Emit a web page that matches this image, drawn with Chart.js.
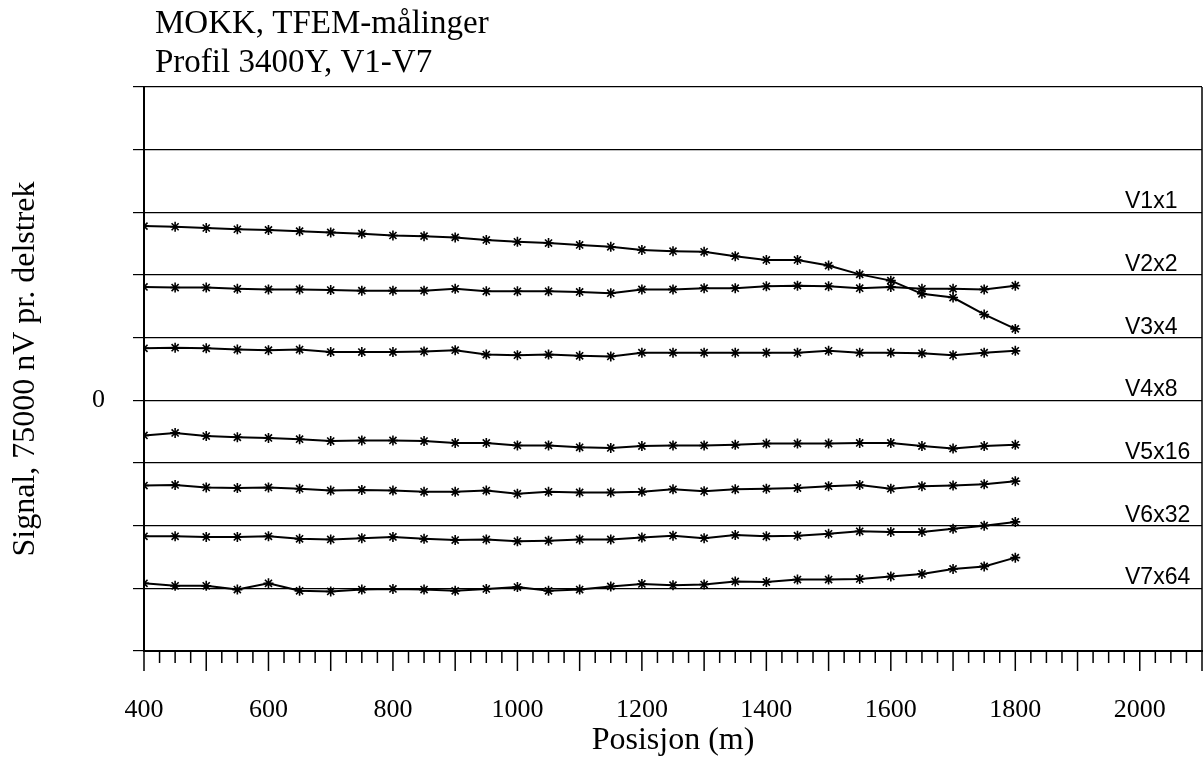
<!DOCTYPE html>
<html>
<head>
<meta charset="utf-8">
<title>MOKK, TFEM-målinger</title>
<script src="https://cdn.jsdelivr.net/npm/chart.js@4.4.1/dist/chart.umd.min.js"></script>
<style>
  html, body { margin: 0; padding: 0; background: #fff; }
</style>
</head>
<body>
<canvas id="tfemChart" width="1204" height="762"></canvas>
<script>
// Measuring positions along the profile (m)
const positions = [400, 450, 500, 550, 600, 650, 700, 750, 800, 850,
                   900, 950, 1000, 1050, 1100, 1150, 1200, 1250, 1300, 1350,
                   1400, 1450, 1500, 1550, 1600, 1650, 1700, 1750, 1800];

// Channel signals, in plot units (75000 nV per division)
const v1 = [2.78, 2.77, 2.75, 2.73, 2.72, 2.70, 2.68, 2.66, 2.63, 2.62,
            2.60, 2.56, 2.53, 2.51, 2.48, 2.45, 2.40, 2.38, 2.37, 2.30,
            2.24, 2.24, 2.15, 2.01, 1.91, 1.70, 1.64, 1.37, 1.14];
const v2 = [1.81, 1.80, 1.80, 1.78, 1.77, 1.77, 1.76, 1.75, 1.75, 1.75,
            1.78, 1.74, 1.74, 1.74, 1.73, 1.71, 1.77, 1.77, 1.79, 1.79,
            1.82, 1.83, 1.82, 1.79, 1.81, 1.78, 1.78, 1.77, 1.83];
const v3 = [0.83, 0.84, 0.83, 0.81, 0.80, 0.81, 0.77, 0.77, 0.77, 0.78,
            0.80, 0.73, 0.72, 0.73, 0.71, 0.70, 0.76, 0.76, 0.76, 0.76,
            0.76, 0.76, 0.79, 0.76, 0.76, 0.75, 0.72, 0.76, 0.79];
const v4 = [-0.56, -0.52, -0.57, -0.59, -0.60, -0.62, -0.65, -0.64, -0.64, -0.65,
            -0.68, -0.68, -0.72, -0.72, -0.75, -0.76, -0.73, -0.72, -0.72, -0.71,
            -0.69, -0.69, -0.69, -0.68, -0.68, -0.73, -0.77, -0.73, -0.71];
const v5 = [-1.36, -1.35, -1.39, -1.40, -1.39, -1.41, -1.44, -1.43, -1.44, -1.46,
            -1.46, -1.44, -1.49, -1.46, -1.47, -1.47, -1.46, -1.42, -1.45, -1.42,
            -1.41, -1.40, -1.37, -1.35, -1.41, -1.37, -1.36, -1.34, -1.29];
const v6 = [-2.17, -2.17, -2.18, -2.18, -2.17, -2.21, -2.22, -2.20, -2.18, -2.21,
            -2.23, -2.22, -2.25, -2.24, -2.22, -2.22, -2.19, -2.16, -2.20, -2.15,
            -2.17, -2.16, -2.13, -2.09, -2.10, -2.10, -2.05, -2.00, -1.94];
const v7 = [-2.92, -2.96, -2.96, -3.02, -2.92, -3.04, -3.05, -3.02, -3.01, -3.02,
            -3.04, -3.01, -2.98, -3.04, -3.02, -2.97, -2.93, -2.95, -2.94, -2.89,
            -2.90, -2.86, -2.86, -2.85, -2.81, -2.77, -2.69, -2.65, -2.51];

// Channel names and the grid line each one is written on
const seriesNames = ['V1x1', 'V2x2', 'V3x4', 'V4x8', 'V5x16', 'V6x32', 'V7x64'];
const nameLevels = [3, 2, 1, 0, -1, -2, -3];

// Axis labels
const xLabels = [400, 600, 800, 1000, 1200, 1400, 1600, 1800, 2000];
const yLabels = [0];
const titleLines = ['MOKK, TFEM-målinger', 'Profil 3400Y, V1-V7'];

const serif = "'Liberation Serif', 'Times New Roman', serif";
const sans = "'Liberation Sans', Arial, sans-serif";

const allSeries = [v1, v2, v3, v4, v5, v6, v7];
const datasets = allSeries.map((vals, i) => ({
  label: seriesNames[i],
  data: positions.map((x, j) => ({ x: x, y: vals[j] })),
  borderColor: '#000',
  backgroundColor: '#000',
  borderWidth: 2,
  pointStyle: 'star',
  pointRadius: 5,
  pointBorderWidth: 1.6,
  pointBorderColor: '#000',
  tension: 0
}));

// Title, channel names, minor x ticks and the right frame line
const decorations = {
  id: 'decorations',
  afterDraw(chart) {
    const { ctx, chartArea, scales } = chart;
    const xs = scales.x, ys = scales.y;
    ctx.save();

    // title block
    ctx.fillStyle = '#000';
    ctx.font = '33px ' + serif;
    ctx.textAlign = 'left';
    ctx.textBaseline = 'alphabetic';
    ctx.fillText(titleLines[0], 155, 33);
    ctx.fillText(titleLines[1], 155, 72);

    // right frame
    ctx.strokeStyle = '#000';
    ctx.lineWidth = 1.5;
    ctx.beginPath();
    ctx.moveTo(chartArea.right, chartArea.top);
    ctx.lineTo(chartArea.right, chartArea.bottom);
    ctx.stroke();

    // tick marks along the position axis
    ctx.lineWidth = 1.5;
    for (let v = xs.min; v <= xs.max; v += 25) {
      const px = xs.getPixelForValue(v);
      const len = v % 100 === 0 ? 20 : 12;
      ctx.beginPath();
      ctx.moveTo(px, chartArea.bottom);
      ctx.lineTo(px, chartArea.bottom + len);
      ctx.stroke();
    }

    // channel names above their grid lines
    ctx.font = '23px ' + sans;
    seriesNames.forEach((name, i) => {
      const py = ys.getPixelForValue(nameLevels[i]);
      ctx.fillText(name, 1125, py - 4);
    });
    ctx.restore();
  }
};

new Chart(document.getElementById('tfemChart'), {
  type: 'line',
  data: { datasets: datasets },
  options: {
    responsive: false,
    animation: false,
    layout: {
      autoPadding: false,
      padding: { top: 87, right: 2, left: 0, bottom: 0 }
    },
    plugins: {
      legend: { display: false },
      tooltip: { enabled: false }
    },
    scales: {
      x: {
        type: 'linear',
        min: 400,
        max: 2100,
        afterFit: scale => {
          scale.height = 111;
          scale.paddingLeft = 0;
          scale.paddingRight = 0;
        },
        border: { display: true, color: '#000', width: 2 },
        grid: {
          display: true,
          drawOnChartArea: false,
          drawTicks: true,
          tickLength: 20,
          tickColor: 'rgba(0,0,0,0)'
        },
        ticks: {
          stepSize: 200,
          includeBounds: false,
          autoSkip: false,
          maxRotation: 0,
          padding: 24,
          color: '#000',
          font: { family: serif, size: 26 },
          callback: v => xLabels.includes(v) ? String(v) : ''
        },
        title: {
          display: true,
          text: 'Posisjon (m)',
          color: '#000',
          font: { family: serif, size: 32 },
          padding: { top: 0, bottom: 2 }
        }
      },
      y: {
        type: 'linear',
        min: -4,
        max: 5,
        afterFit: scale => { scale.width = 144; },
        border: { display: true, color: '#000', width: 2 },
        grid: {
          color: '#000',
          lineWidth: 1.2,
          tickLength: 11,
          tickColor: '#000'
        },
        ticks: {
          stepSize: 1,
          padding: 28,
          color: '#000',
          font: { family: serif, size: 26 },
          callback: v => yLabels.includes(v) ? String(v) : ''
        },
        title: {
          display: true,
          text: 'Signal, 75000 nV pr. delstrek',
          color: '#000',
          font: { family: serif, size: 32 },
          padding: { top: 6, bottom: 0 }
        }
      }
    }
  },
  plugins: [decorations]
});
</script>
</body>
</html>
